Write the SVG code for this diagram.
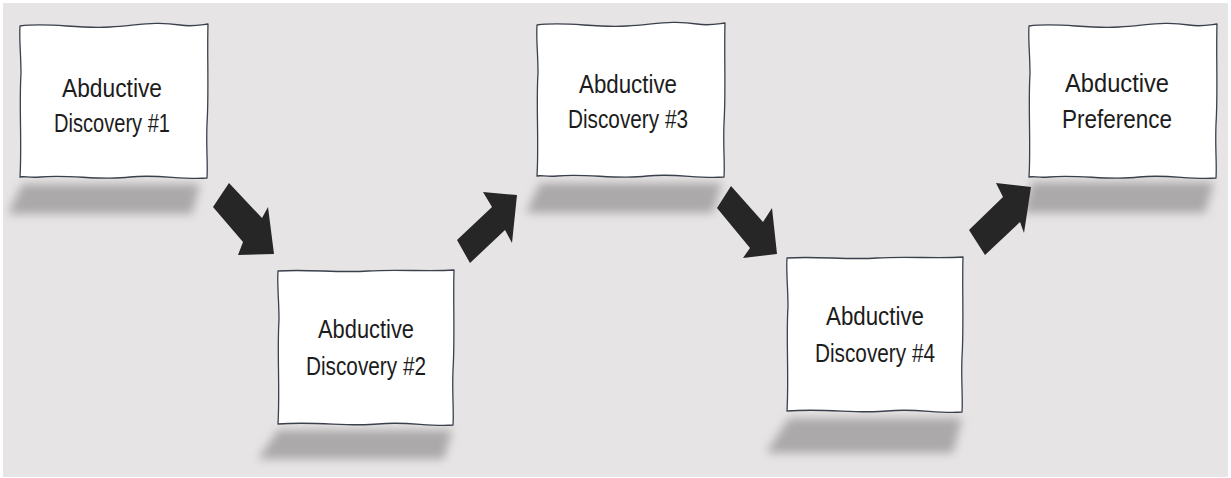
<svg xmlns="http://www.w3.org/2000/svg" width="1231" height="478" viewBox="0 0 1231 478">
<defs>
<style>
.bg{fill:#e7e4e5}
.shadow{fill:#aba9aa;filter:url(#blur)}
.box{fill:#ffffff;stroke:#3a404c;stroke-width:1.3;stroke-linejoin:round}
.lbl{font-family:"Liberation Sans",Arial,sans-serif;font-size:25px;fill:#1c1c1c;text-anchor:middle}
.arrow{fill:#262626}
</style>
<filter id="blur" x="-20%" y="-60%" width="140%" height="220%"><feGaussianBlur stdDeviation="5"/></filter>
<path id="shapeA" d="M0,2 C30,-2 55,5 90,3 C120,1 135,-3 160,1 C172,3 180,1 188,0 C187,30 189,70 187,100 C186,125 188,140 187,154 C160,156 140,150 110,153 C80,157 50,150 20,153 C10,154 4,152 0,153 C2,120 -1,80 1,50 C1,30 -1,15 0,2 Z"/>
<path id="shapeB" d="M0,1 C30,-1 60,3 90,1 C120,-1 150,2 176,0 C175,30 177,70 175,100 C174,125 176,140 175,155 C150,157 130,151 100,154 C70,157 40,151 0,154 C2,120 -1,80 1,50 C1,30 -1,15 0,1 Z"/>
</defs>
<rect x="0" y="0" width="1231" height="478" fill="#ffffff"/>
<rect class="bg" x="3" y="3" width="1225" height="474"/>

<g id="node1">
<polygon class="shadow" points="22,184 200,184 192,214 8,214"/>
<use href="#shapeA" class="box" transform="translate(20,24)"/>
<text class="lbl" x="112" y="97" textLength="100" lengthAdjust="spacingAndGlyphs">Abductive</text>
<text class="lbl" x="112" y="132" textLength="116" lengthAdjust="spacingAndGlyphs">Discovery #1</text>
</g>

<g id="node2">
<polygon class="shadow" points="278,430 452,430 444,459 258,459"/>
<use href="#shapeB" class="box" transform="translate(278,270)"/>
<text class="lbl" x="366" y="338" textLength="96" lengthAdjust="spacingAndGlyphs">Abductive</text>
<text class="lbl" x="366" y="375" textLength="120" lengthAdjust="spacingAndGlyphs">Discovery #2</text>
</g>

<g id="node3">
<polygon class="shadow" points="540,183 722,183 713,213 526,213"/>
<use href="#shapeA" class="box" transform="translate(537,23)"/>
<text class="lbl" x="628" y="93" textLength="98" lengthAdjust="spacingAndGlyphs">Abductive</text>
<text class="lbl" x="628" y="128" textLength="120" lengthAdjust="spacingAndGlyphs">Discovery #3</text>
</g>

<g id="node4">
<polygon class="shadow" points="789,418 962,418 953,453 766,453"/>
<use href="#shapeB" class="box" transform="translate(787,257)"/>
<text class="lbl" x="875" y="325" textLength="98" lengthAdjust="spacingAndGlyphs">Abductive</text>
<text class="lbl" x="875" y="362" textLength="120" lengthAdjust="spacingAndGlyphs">Discovery #4</text>
</g>

<g id="node5">
<polygon class="shadow" points="1032,182 1214,182 1205,213 1022,213"/>
<use href="#shapeA" class="box" transform="translate(1029,24)"/>
<text class="lbl" x="1117" y="92" textLength="104" lengthAdjust="spacingAndGlyphs">Abductive</text>
<text class="lbl" x="1117" y="128" textLength="110" lengthAdjust="spacingAndGlyphs">Preference</text>
</g>

<g id="connectors">
<polygon class="arrow" points="229,183 262,218 268,207 274,254 238,255 243,242 213,207"/>
<polygon class="arrow" points="517,195 483,192 492,207 457,240 470,263 505,230 512,243"/>
<polygon class="arrow" points="731,186 763,222 772,208 777,254 743,258 750,248 717,208"/>
<polygon class="arrow" points="1031,187 996,183 1003,197 969,230 985,255 1020,222 1024,233"/>
</g>
</svg>
